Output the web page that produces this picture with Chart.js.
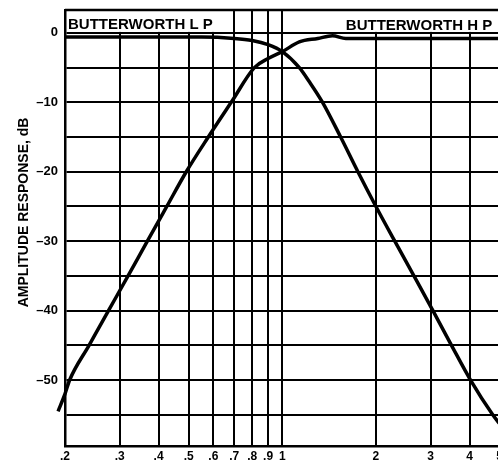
<!DOCTYPE html>
<html>
<head>
<meta charset="utf-8">
<script src="https://cdn.jsdelivr.net/npm/chart.js@4.4.1/dist/chart.umd.min.js"></script>
<style>
  html, body { margin: 0; padding: 0; background: #fff; overflow: hidden; }
  #wrap { width: 506px; height: 465px; }
</style>
</head>
<body>
<div id="wrap"><canvas id="myChart" width="506" height="465"></canvas></div>
<script>
// low pass response
const freqLP = [0.2, 0.3, 0.4, 0.55, 0.7, 0.8, 0.9, 1.0, 1.134, 1.22, 1.347, 1.54, 1.75, 2.0, 2.3, 2.65, 3.05, 3.5, 4.03, 4.75, 5];
const ampLP = [-0.6, -0.6, -0.6, -0.6, -0.8, -1.1, -1.7, -2.7, -5, -7, -10, -15, -20, -25, -30, -35, -40, -45, -50, -55, -56.3];

// high pass response
const freqHP = [0.19, 0.2, 0.207, 0.239, 0.276, 0.319, 0.368, 0.425, 0.491, 0.578, 0.685, 0.813, 0.9, 1.0, 1.134, 1.3, 1.45, 1.6, 2, 3, 4, 5];
const ampHP = [-54.5, -52, -50, -45, -40, -35, -30, -25, -20, -15, -10, -5, -3.7, -2.7, -1.3, -0.8, -0.4, -0.8, -0.8, -0.8, -0.8, -0.8];

const xTicks = [0.2, 0.3, 0.4, 0.5, 0.6, 0.7, 0.8, 0.9, 1, 2, 3, 4, 5];
const xTickLabels = ['.2', '.3', '.4', '.5', '.6', '.7', '.8', '.9', '1', '2', '3', '4', '5'];
const yTicks = [0, -5, -10, -15, -20, -25, -30, -35, -40, -45, -50, -55];
const yTickLabels = ['0', '', '\u201310', '', '\u201320', '', '\u201330', '', '\u201340', '', '\u201350', ''];
const curveLabels = ['BUTTERWORTH L P', 'BUTTERWORTH H P'];

const FONT = "'Liberation Sans', Arial, Helvetica, sans-serif";

// white boxes behind the curve names, top frame line and the names
const labelBoxes = {
   id: 'labelBoxes',
   beforeDatasetsDraw(chart) {
      const { ctx, chartArea, scales: { x, y } } = chart;
      const top = chartArea.top;
      const zero = y.getPixelForValue(0);
      const x0 = x.getPixelForValue(0.2);
      ctx.save();
      ctx.fillStyle = '#fff';
      ctx.fillRect(x0 + 2, top + 1, x.getPixelForValue(0.66) - x0 - 2, zero - top - 2);
      ctx.fillRect(x.getPixelForValue(1.1), top + 1, chartArea.right - x.getPixelForValue(1.1), zero - top - 2);
      ctx.strokeStyle = '#000';
      ctx.lineWidth = 2.5;
      ctx.beginPath();
      ctx.moveTo(chartArea.left, top);
      ctx.lineTo(chartArea.right, top);
      ctx.stroke();
      ctx.fillStyle = '#000';
      ctx.font = 'bold 15px ' + FONT;
      ctx.textBaseline = 'alphabetic';
      ctx.fillText(curveLabels[0], x0 + 3, zero - 4);
      ctx.fillText(curveLabels[1], x.getPixelForValue(1.6), zero - 3);
      ctx.restore();
   },
};

const ctx = document.getElementById('myChart').getContext('2d');

new Chart(ctx, {
   type: 'line',
   data: {
      datasets: [
         {
            label: curveLabels[0],
            data: freqLP.map((f, i) => ({ x: f, y: ampLP[i] })),
            borderColor: '#000',
            borderWidth: 3.5,
            pointRadius: 0,
            cubicInterpolationMode: 'monotone',
         },
         {
            label: curveLabels[1],
            data: freqHP.map((f, i) => ({ x: f, y: ampHP[i] })),
            borderColor: '#000',
            borderWidth: 3.5,
            pointRadius: 0,
            cubicInterpolationMode: 'monotone',
            clip: false,
         },
      ],
   },
   options: {
      responsive: false,
      animation: false,
      devicePixelRatio: 1,
      layout: { padding: { top: 10, right: 5, left: 0, bottom: 0 } },
      plugins: {
         legend: { display: false },
         tooltip: { enabled: false },
      },
      scales: {
         x: {
            type: 'logarithmic',
            min: 0.2,
            max: 5,
            afterBuildTicks: (s) => { s.ticks = xTicks.map((v) => ({ value: v })); },
            afterFit: (s) => { s.height = 19; },
            ticks: {
               callback: (v, i) => xTickLabels[i],
               autoSkip: false,
               maxRotation: 0,
               padding: 3,
               color: '#000',
               font: { family: FONT, size: 12, weight: 'bold' },
            },
            grid: { color: '#000', lineWidth: 2, drawTicks: false },
            border: { color: '#000', width: 2.5 },
         },
         y: {
            type: 'linear',
            min: -59.5,
            max: 3.3,
            afterBuildTicks: (s) => { s.ticks = yTicks.map((v) => ({ value: v })); },
            afterFit: (s) => {
               s.width = 65;
               s.paddingTop = 0;
               s.paddingBottom = 0;
            },
            ticks: {
               callback: (v, i) => yTickLabels[i],
               padding: 7,
               color: '#000',
               font: { family: FONT, size: 13, weight: 'bold' },
            },
            grid: { color: '#000', lineWidth: 2, drawTicks: false },
            border: { color: '#000', width: 2.5 },
            title: {
               display: true,
               text: '        AMPLITUDE RESPONSE, dB',
               color: '#000',
               font: { family: FONT, size: 14, weight: 'bold' },
               padding: { top: 16, bottom: 0 },
            },
         },
      },
   },
   plugins: [labelBoxes],
});
</script>
</body>
</html>
